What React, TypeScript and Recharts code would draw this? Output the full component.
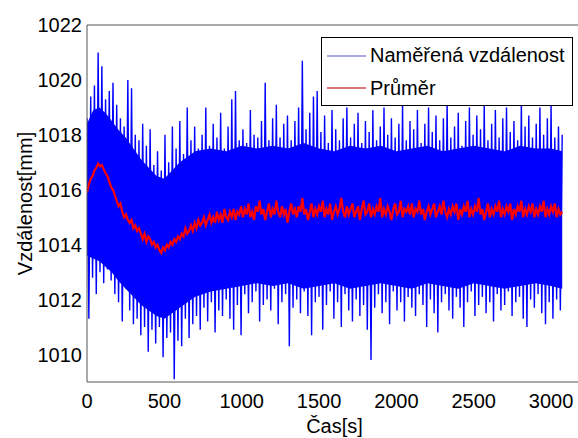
import React from 'react';
import { ComposedChart, Line, Area, XAxis, YAxis, Legend } from 'recharts';

const FONT = '"Liberation Sans", Arial, Helvetica, sans-serif';

// sample spacing of the plotted series [s]
const sampleStep = 12;

// upper peaks of the measured distance (even samples) [mm]
const highPeaks = [
  1018.6, 1019.4, 1019.8, 1021.0, 1020.5, 1019.3, 1019.6, 1019.9, 1019.1, 1018.6,
  1018.3, 1020.0, 1019.7, 1018.0, 1017.8, 1018.4, 1017.6, 1018.2, 1016.9, 1017.4,
  1016.7, 1018.0, 1017.0, 1018.3, 1017.5, 1018.5, 1017.3, 1019.0, 1017.8, 1018.3,
  1017.5, 1018.0, 1019.0, 1017.6, 1018.4, 1017.9, 1018.8, 1017.5, 1018.3, 1019.3,
  1019.6, 1017.8, 1018.2, 1017.7, 1018.9, 1018.0, 1017.9, 1018.5, 1019.9, 1017.8,
  1018.6, 1019.1, 1017.9, 1018.4, 1018.7, 1017.8, 1018.5, 1019.0, 1020.7, 1018.2,
  1018.8, 1019.4, 1019.6, 1018.1, 1018.7, 1017.7, 1018.9, 1018.2, 1017.8, 1018.6,
  1019.0, 1017.9, 1018.4, 1018.8, 1017.7, 1018.5, 1018.1, 1018.9, 1017.8, 1018.3,
  1019.0, 1018.0, 1018.6, 1017.9, 1018.4, 1019.1, 1017.8, 1018.5, 1018.2, 1018.9,
  1017.7, 1018.4, 1019.0, 1018.1, 1018.7, 1017.8, 1018.6, 1019.2, 1017.9, 1018.3,
  1018.8, 1017.6, 1018.5, 1019.0, 1018.0, 1018.7, 1018.2, 1019.1, 1017.8, 1018.4,
  1018.9, 1017.9, 1018.6, 1019.0, 1018.1, 1018.5, 1017.8, 1019.2, 1018.3, 1018.7,
  1017.9, 1018.4, 1019.0, 1018.0, 1018.6, 1019.1, 1017.9, 1018.3, 1018.0,
];

// lower peaks of the measured distance (odd samples) [mm]
const lowPeaks = [
  1011.3, 1012.8, 1012.2, 1013.0, 1012.6, 1013.1, 1012.7, 1012.2, 1011.9, 1011.2,
  1012.4, 1011.6, 1011.1, 1011.3, 1010.7, 1011.0, 1010.1, 1010.9, 1010.4, 1011.0,
  1009.9, 1010.6, 1010.8, 1009.1, 1010.5, 1010.3, 1011.3, 1010.6, 1011.1, 1011.4,
  1010.9, 1011.7, 1011.2, 1011.9, 1010.8, 1011.6, 1011.4, 1012.0, 1011.3, 1010.9,
  1011.8, 1010.7, 1012.2, 1011.5, 1011.9, 1012.3, 1011.2, 1011.8, 1012.0, 1011.6,
  1012.4, 1011.1, 1011.9, 1012.2, 1010.3, 1011.7, 1012.0, 1011.5, 1012.3, 1011.4,
  1010.7, 1011.9, 1012.1, 1010.9, 1011.8, 1012.3, 1011.3, 1011.9, 1011.0, 1012.2,
  1011.6, 1011.2, 1012.0, 1011.4, 1011.8, 1010.9, 1009.8, 1011.7, 1012.2, 1011.5,
  1011.9, 1011.1, 1012.3, 1011.6, 1011.9, 1011.2, 1012.1, 1011.7, 1011.4, 1012.2,
  1011.8, 1011.0, 1012.0, 1011.5, 1010.8, 1011.9, 1012.2, 1011.6, 1011.3, 1012.1,
  1011.7, 1011.0, 1011.9, 1012.3, 1011.4, 1011.8, 1012.1, 1011.5, 1011.9, 1011.2,
  1012.2, 1011.6, 1011.8, 1012.3, 1011.4, 1011.9, 1012.1, 1011.3, 1011.0, 1012.0,
  1011.7, 1012.2, 1011.5, 1011.1, 1011.9, 1011.3, 1012.0, 1011.6,
];

// running mean [mm]
const meanValues = [
  1015.9, 1016.2, 1016.4, 1016.5, 1016.7, 1016.8, 1016.95, 1016.85, 1016.9,
  1016.75, 1016.6, 1016.5, 1016.3, 1016.1, 1016.0, 1015.8, 1015.6,
  1015.4, 1015.5, 1015.2, 1015.0, 1015.1, 1014.9, 1014.8, 1014.9, 1014.6,
  1014.7, 1014.5, 1014.6, 1014.4, 1014.2, 1014.4, 1014.1, 1014.3, 1014.2,
  1014.0, 1014.1, 1013.9, 1014.0, 1013.8, 1013.7, 1013.9, 1013.8,
  1014.0, 1013.9, 1014.1, 1014.0, 1014.2, 1014.1, 1014.3, 1014.2,
  1014.4, 1014.3, 1014.6, 1014.4, 1014.5, 1014.7, 1014.5, 1014.8, 1014.6,
  1014.9, 1014.7, 1014.8, 1015.0, 1014.7, 1014.9, 1015.1, 1014.8,
  1015.0, 1014.8, 1015.2, 1014.9, 1015.1, 1014.8, 1015.3, 1015.0, 1014.9, 1015.2, 1015.0, 1015.3, 1014.9, 1015.2, 1015.1, 1015.4,
  1015.0, 1015.3, 1015.1, 1015.5, 1015.0, 1015.2, 1014.9, 1015.4, 1015.2, 1015.6,
  1015.1, 1015.3, 1014.9, 1015.2, 1015.5, 1015.0, 1015.3, 1015.1, 1015.6, 1015.2,
  1015.0, 1015.4, 1015.1, 1015.3, 1014.8, 1015.2, 1015.5, 1015.1, 1015.3, 1015.0,
  1015.4, 1015.2, 1015.7, 1015.1, 1015.3, 1014.9, 1015.2, 1015.5, 1015.0, 1015.3,
  1015.1, 1015.4, 1015.2, 1015.6, 1015.0, 1015.3, 1015.1, 1015.5, 1014.9, 1015.2,
  1015.4, 1015.1, 1015.3, 1015.7, 1015.2, 1015.0, 1015.4, 1015.1, 1015.3, 1015.5,
  1015.0, 1015.2, 1015.4, 1014.9, 1015.3, 1015.6, 1015.1, 1015.2, 1015.5, 1015.0,
  1015.3, 1015.1, 1015.4, 1015.2, 1015.7, 1015.0, 1015.3, 1015.1, 1015.4, 1015.2,
  1014.9, 1015.3, 1015.5, 1015.1, 1015.2, 1015.6, 1015.0, 1015.3, 1015.2, 1015.4,
  1015.1, 1015.5, 1015.0, 1015.3, 1015.2, 1015.6, 1015.1, 1015.3, 1014.9, 1015.2,
  1015.4, 1015.1, 1015.3, 1015.5, 1015.0, 1015.2, 1015.4, 1015.1, 1015.6, 1015.2,
  1015.0, 1015.3, 1015.1, 1015.4, 1015.2, 1015.5, 1014.9, 1015.3, 1015.1, 1015.4,
  1015.2, 1015.6, 1015.0, 1015.3, 1015.1, 1015.4, 1015.2, 1015.7, 1015.1, 1015.3,
  1014.9, 1015.2, 1015.5, 1015.0, 1015.3, 1015.1, 1015.4, 1015.2, 1015.6, 1015.0,
  1015.3, 1015.1, 1015.4, 1015.2, 1015.5, 1014.9, 1015.3, 1015.1, 1015.4, 1015.2,
  1015.6, 1015.0, 1015.3, 1015.1, 1015.4, 1015.2, 1015.5, 1015.0, 1015.3, 1015.1,
  1015.4, 1015.2, 1015.6, 1015.0, 1015.3, 1015.1, 1015.4, 1015.2, 1015.5, 1015.0,
  1015.3, 1015.1, 1015.2,
];

// dense core of the measured samples (solid blue band) [s] / [mm]
const bandTimes = [
  0, 40, 80, 120, 160, 200, 250, 300, 350, 400, 450, 500, 550, 600, 650, 700,
  800, 900, 1000, 1100, 1200, 1300, 1400, 1500, 1600, 1700, 1800, 1900, 2000,
  2100, 2200, 2300, 2400, 2500, 2600, 2700, 2800, 2900, 3000, 3072,
];
const bandTop = [
  1018.4, 1018.9, 1019.0, 1018.8, 1018.5, 1018.2, 1017.9, 1017.5, 1017.1, 1016.8, 1016.5,
  1016.4, 1016.7, 1017.0, 1017.2, 1017.4, 1017.5, 1017.4, 1017.6, 1017.5, 1017.6, 1017.5,
  1017.7, 1017.5, 1017.4, 1017.6, 1017.5, 1017.6, 1017.4, 1017.5, 1017.6, 1017.4, 1017.5,
  1017.6, 1017.5, 1017.4, 1017.6, 1017.5, 1017.5, 1017.4,
];
const bandBottom = [
  1013.6, 1013.5, 1013.4, 1013.2, 1013.0, 1012.7, 1012.4, 1012.1, 1011.8, 1011.6, 1011.4,
  1011.3, 1011.5, 1011.7, 1011.9, 1012.1, 1012.3, 1012.4, 1012.5, 1012.6, 1012.5, 1012.6,
  1012.4, 1012.5, 1012.6, 1012.4, 1012.5, 1012.6, 1012.5, 1012.4, 1012.6, 1012.5, 1012.4,
  1012.6, 1012.5, 1012.4, 1012.5, 1012.6, 1012.5, 1012.4,
];

const xTicks = [0, 500, 1000, 1500, 2000, 2500, 3000];
const yTicks = [1010, 1012, 1014, 1016, 1018, 1020, 1022];
const xDomain = [0, 3200];
const yDomain = [1009, 1022];

const seriesNames = { measured: 'Naměřená vzdálenost', mean: 'Průměr' };
const xLabel = 'Čas[s]';
const yLabel = 'Vzdálenost[mm]';

const data = meanValues.map((m, i) => ({
  t: i * sampleStep,
  measured: i % 2 === 0 ? highPeaks[i / 2] : lowPeaks[(i - 1) / 2],
  mean: m,
}));

const bandData = bandTimes.map((t, i) => ({ t, band: [bandBottom[i], bandTop[i]] }));

const AXIS = '#555';
const BLUE = '#0000ff';
const RED = '#ff0000';

const renderLegend = () => (
  <div
    style={{
      position: 'relative',
      width: 252,
      height: 69,
      boxSizing: 'border-box',
      border: '1px solid #000',
      background: '#fff',
      fontFamily: FONT,
      fontSize: 20,
      color: '#000',
    }}
  >
    <svg width={42} height={60} style={{ position: 'absolute', left: 5, top: 0 }}>
      <line x1={0} x2={39} y1={18} y2={18} stroke="#8c8cdc" strokeWidth={1.6} />
      <line x1={0} x2={39} y1={50} y2={50} stroke="#cc4a4a" strokeWidth={1.6} />
    </svg>
    <span style={{ position: 'absolute', left: 48, top: 6, lineHeight: '23px', whiteSpace: 'nowrap' }}>
      {seriesNames.measured}
    </span>
    <span style={{ position: 'absolute', left: 48, top: 39, lineHeight: '23px', whiteSpace: 'nowrap' }}>
      {seriesNames.mean}
    </span>
  </div>
);

export default function App() {
  const tickStyle = { fontSize: 20, fill: '#000', fontFamily: FONT };
  return (
    <div style={{ position: 'absolute', left: 0, top: 0, width: 578, height: 438, overflow: 'hidden', background: '#fff' }}>
      <ComposedChart
        width={600}
        height={438}
        data={data}
        margin={{ top: 25, right: 18, bottom: 0, left: 0 }}
      >
        <XAxis
          xAxisId="x"
          dataKey="t"
          type="number"
          domain={xDomain}
          ticks={xTicks}
          allowDataOverflow
          height={56}
          tickLine={false}
          tickSize={6}
          tickMargin={6}
          tick={tickStyle}
          axisLine={{ stroke: AXIS }}
          label={{ value: xLabel, position: 'insideBottom', offset: 5, fontSize: 20, fill: '#000', fontFamily: FONT }}
        />
        <XAxis
          xAxisId="xin"
          dataKey="t"
          type="number"
          domain={xDomain}
          ticks={xTicks}
          allowDataOverflow
          mirror
          tick={false}
          tickSize={5}
          tickLine={{ stroke: AXIS }}
          axisLine={false}
        />
        <XAxis
          xAxisId="xtop"
          dataKey="t"
          type="number"
          orientation="top"
          domain={xDomain}
          ticks={xTicks}
          allowDataOverflow
          mirror
          tick={false}
          tickSize={5}
          tickLine={{ stroke: AXIS }}
          axisLine={{ stroke: AXIS }}
        />
        <YAxis
          yAxisId="y"
          type="number"
          domain={yDomain}
          ticks={yTicks}
          allowDataOverflow
          width={87}
          tickLine={false}
          tickSize={3}
          tickMargin={2}
          tick={tickStyle}
          axisLine={{ stroke: AXIS }}
          label={{ value: yLabel, angle: -90, position: 'center', dx: -19, fontSize: 20, fill: '#000', fontFamily: FONT }}
        />
        <YAxis
          yAxisId="yin"
          type="number"
          domain={yDomain}
          ticks={yTicks}
          allowDataOverflow
          mirror
          tick={false}
          tickSize={5}
          tickLine={{ stroke: AXIS }}
          axisLine={false}
        />
        <YAxis
          yAxisId="yright"
          type="number"
          orientation="right"
          domain={yDomain}
          ticks={yTicks}
          allowDataOverflow
          mirror
          tick={false}
          tickSize={5}
          tickLine={{ stroke: AXIS }}
          axisLine={{ stroke: AXIS }}
        />
        <Area
          xAxisId="x"
          yAxisId="y"
          type="linear"
          data={bandData}
          dataKey="band"
          stroke="none"
          fill={BLUE}
          fillOpacity={1}
          dot={false}
          activeDot={false}
          legendType="none"
          isAnimationActive={false}
        />
        <Line
          xAxisId="x"
          yAxisId="y"
          type="linear"
          dataKey="measured"
          name={seriesNames.measured}
          stroke={BLUE}
          strokeWidth={1.4}
          dot={false}
          activeDot={false}
          isAnimationActive={false}
        />
        <Line
          xAxisId="x"
          yAxisId="y"
          type="linear"
          dataKey="mean"
          name={seriesNames.mean}
          stroke={RED}
          strokeWidth={2.2}
          dot={false}
          activeDot={false}
          isAnimationActive={false}
        />
        <Legend
          layout="horizontal"
          verticalAlign="middle"
          align="center"
          content={renderLegend}
          wrapperStyle={{ top: 37, left: 321, width: 252, height: 69, margin: 0, padding: 0 }}
        />
      </ComposedChart>
    </div>
  );
}
